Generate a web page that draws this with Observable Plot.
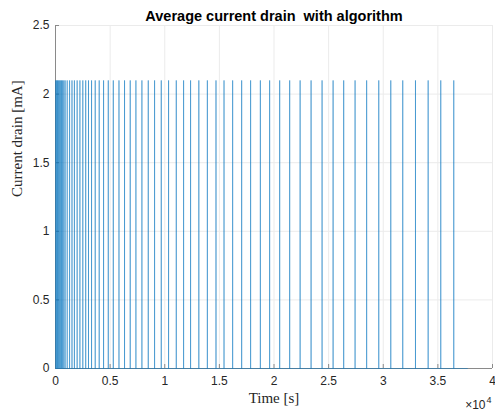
<!DOCTYPE html>
<html>
<head>
<meta charset="utf-8">
<script src="https://cdn.jsdelivr.net/npm/d3@7"></script>
<script src="https://cdn.jsdelivr.net/npm/@observablehq/plot@0.6"></script>
<style>
  html, body { margin: 0; padding: 0; background: #fff; }
  #chart { width: 495px; height: 415px; }
</style>
</head>
<body>
<div id="chart"></div>
<script>
// ---- data ----
const title = "Average current drain\u00a0 with algorithm";
const xLabel = "Time [s]";
const yLabel = "Current drain [mA]";
const xExponentBase = "\u00d710";
const xExponentPower = "4";
const peakCurrent = 2.1;        // mA
const traceEnd = 37700;         // s, end of the recorded trace
const spikeTimes = [
  20, 100, 185, 265, 355, 450, 550, 650, 760, 880,
  1070, 1290, 1510, 1730, 1980, 2235, 2500, 2765, 3020, 3300,
  3635, 4000, 4400, 4830, 5290, 5810, 6320, 6840, 7360, 7910,
  8490, 9070, 9680, 10350, 11055, 11725, 12365, 13120, 13900, 14690,
  15425, 16215, 17040, 17860, 18750, 19600, 20520, 21435, 22390, 23395,
  24400, 25410, 26380, 27420, 28480, 29590, 30690, 31785, 32950, 34110,
  35265, 36455
];
const xTicks = [0, 5000, 10000, 15000, 20000, 25000, 30000, 35000, 40000];
const yTicks = [0, 0.5, 1, 1.5, 2, 2.5];

// trace points: baseline with spikes to the peak value
const trace = [{t: 0, v: 0}];
for (const t of spikeTimes) {
  trace.push({t, v: 0}, {t, v: peakCurrent}, {t, v: 0});
}
trace.push({t: traceEnd, v: 0});

const axisColor = "#8a8a8a";
const labelColor = "#262626";
const gridColor = "#ebebeb";
const sans = "'Liberation Sans', Arial, Helvetica, sans-serif";
const serif = "'Liberation Serif', 'Times New Roman', serif";

const chart = Plot.plot({
  width: 495,
  height: 415,
  marginLeft: 55,
  marginRight: 3,
  marginTop: 25,
  marginBottom: 47,
  style: {fontFamily: sans, fontSize: "11px", color: labelColor, background: "#fff"},
  x: {domain: [0, 40000], label: null},
  y: {domain: [0, 2.5], label: null},
  marks: [
    Plot.gridX(xTicks, {stroke: gridColor, strokeOpacity: 1}),
    Plot.gridY(yTicks, {stroke: gridColor, strokeOpacity: 1}),
    // axis lines
    Plot.ruleY([0], {stroke: axisColor, strokeWidth: 1}),
    Plot.ruleX([0], {stroke: axisColor, strokeWidth: 1}),
    // inward ticks
    Plot.axisX(xTicks, {tickSize: -4, text: null, stroke: axisColor, label: null}),
    Plot.axisY(yTicks, {tickSize: -4, text: null, stroke: axisColor, label: null}),
    // trace
    Plot.line(trace, {x: "t", y: "v", stroke: "#0072BD", strokeWidth: 0.8, strokeOpacity: 0.6}),
    // tick labels
    Plot.axisX(xTicks, {tickSize: 0, tickPadding: 8, tickFormat: d => String(d / 10000), fill: labelColor, fontSize: 12, label: null}),
    Plot.axisY(yTicks, {tickSize: 0, tickPadding: 6, tickFormat: d => String(d), fill: labelColor, fontSize: 12, label: null}),
    // axis titles
    Plot.text([xLabel], {frameAnchor: "bottom", dy: 34, fontFamily: serif, fontSize: 15, fill: labelColor}),
    Plot.text([yLabel], {frameAnchor: "left", dx: -38, rotate: -90, fontFamily: serif, fontSize: 15, fill: labelColor}),
    Plot.text([xExponentBase], {frameAnchor: "bottom-right", dy: 40, dx: -7, textAnchor: "end", fontSize: 12, fill: labelColor}),
    Plot.text([xExponentPower], {frameAnchor: "bottom-right", dy: 34, dx: -1, textAnchor: "end", fontSize: 9, fill: labelColor}),
    Plot.text([title], {frameAnchor: "top", dy: -15, fontWeight: "bold", fontSize: 14.5, fill: "#000"})
  ]
});
document.getElementById("chart").appendChild(chart);
</script>
</body>
</html>
